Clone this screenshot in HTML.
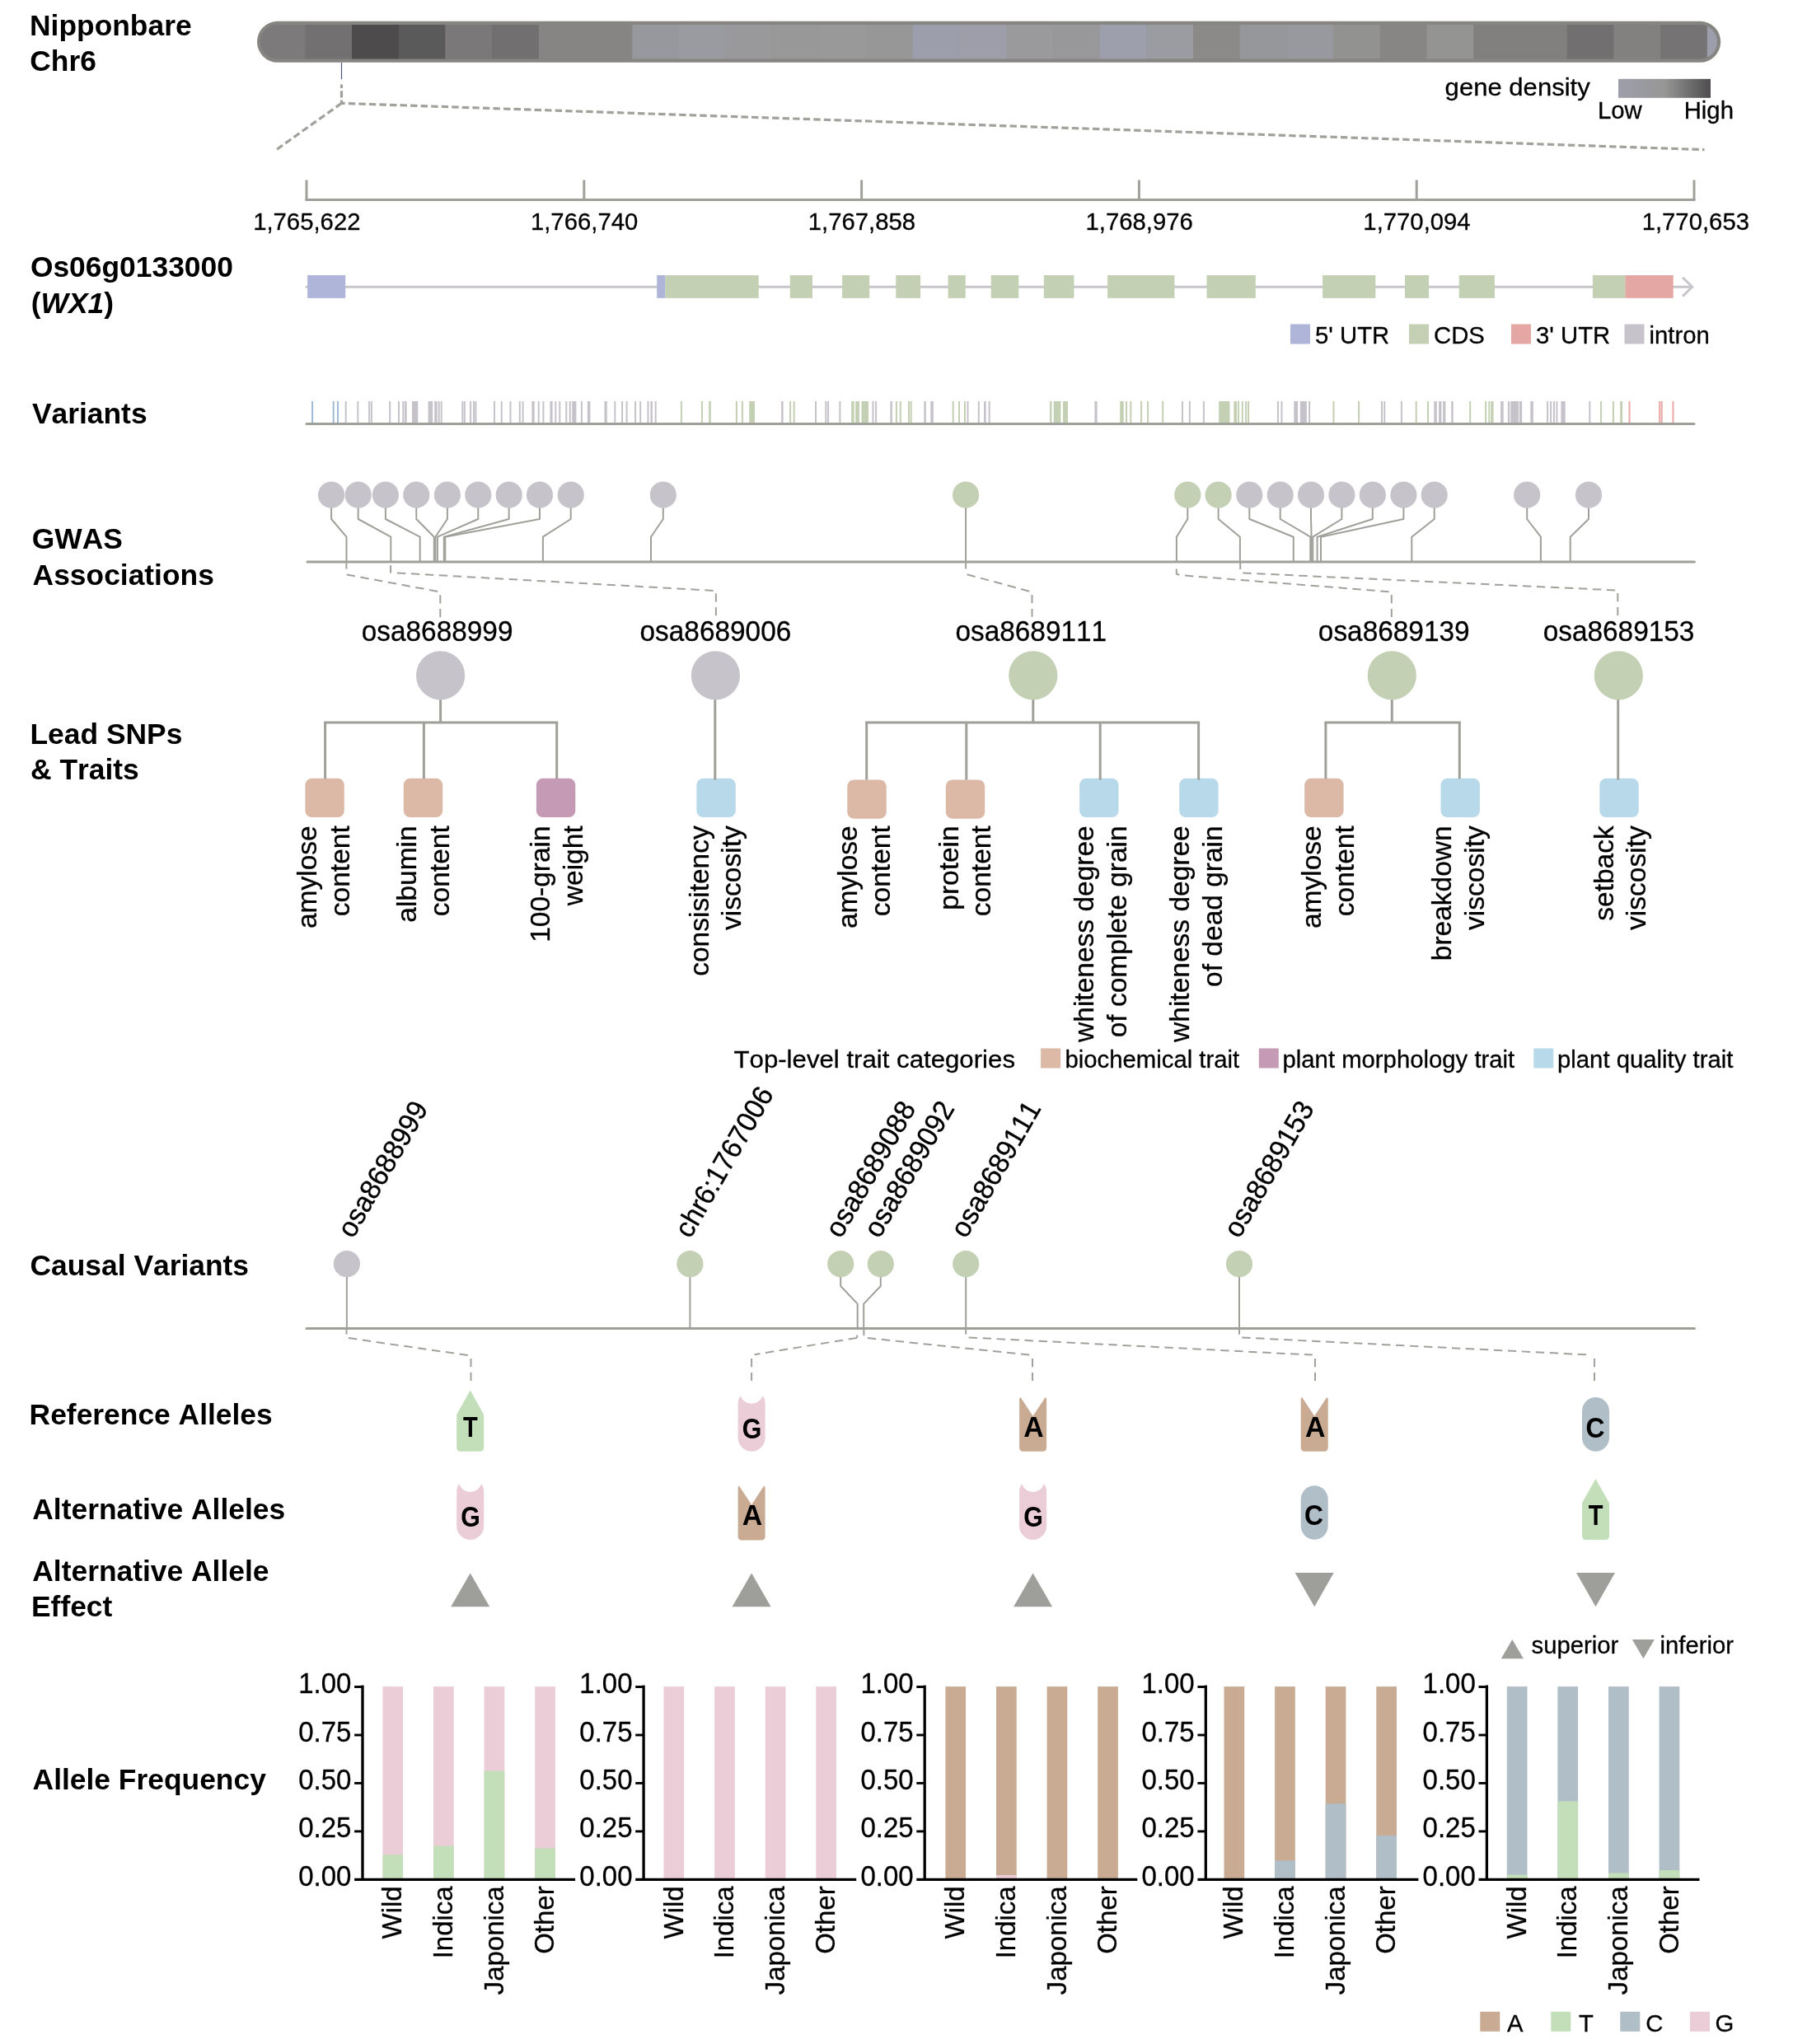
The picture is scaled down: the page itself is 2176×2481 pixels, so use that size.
<!DOCTYPE html>
<html><head><meta charset="utf-8"><title>WX1 locus</title>
<style>
html,body{margin:0;padding:0;background:#fff;}
body{width:2176px;height:2481px;overflow:hidden;font-family:"Liberation Sans",sans-serif;}
svg{display:block;will-change:transform;}
svg text{font-family:"Liberation Sans",sans-serif;fill:#000;font-kerning:none;stroke:#000;stroke-width:0.3px;}
</style></head><body>
<svg width="2176" height="2481" viewBox="0 0 2176 2481">
<rect width="2176" height="2481" fill="#fff"/>
<text transform="translate(36.0 43.3)" font-size="35.4" font-weight="bold" style="stroke:none">Nipponbare</text>
<text transform="translate(36.3 86)" font-size="35.4" font-weight="bold" style="stroke:none">Chr6</text>
<text transform="translate(36.9 335.8)" font-size="35.4" font-weight="bold" style="stroke:none">Os06g0133000</text>
<text transform="translate(37.8 379.5)" font-size="35.4" font-weight="bold" style="stroke:none">(<tspan font-style="italic">WX1</tspan>)</text>
<text transform="translate(38.9 513.7)" font-size="35.4" font-weight="bold" style="stroke:none">Variants</text>
<text transform="translate(38.7 666.3)" font-size="35.4" font-weight="bold" style="stroke:none">GWAS</text>
<text transform="translate(39.6 709.8)" font-size="35.4" font-weight="bold" style="stroke:none">Associations</text>
<text transform="translate(36.5 903)" font-size="35.4" font-weight="bold" style="stroke:none">Lead SNPs</text>
<text transform="translate(37 945.8)" font-size="35.4" font-weight="bold" style="stroke:none">&amp; Traits</text>
<text transform="translate(36.5 1548.2)" font-size="35.4" font-weight="bold" style="stroke:none">Causal Variants</text>
<text transform="translate(35.6 1728.6)" font-size="35.4" font-weight="bold" style="stroke:none">Reference Alleles</text>
<text transform="translate(39.3 1844.4)" font-size="35.4" font-weight="bold" style="stroke:none">Alternative Alleles</text>
<text transform="translate(39.3 1919.2)" font-size="35.4" font-weight="bold" style="stroke:none">Alternative Allele</text>
<text transform="translate(38 1962.2)" font-size="35.4" font-weight="bold" style="stroke:none">Effect</text>
<text transform="translate(39.6 2171.5)" font-size="35.4" font-weight="bold" style="stroke:none">Allele Frequency</text>
<defs><clipPath id="chrclip"><rect x="316" y="30" width="1768" height="41.6" rx="20.8"/></clipPath></defs>
<rect x="312" y="25.8" width="1776.2" height="50" rx="25" fill="#868581"/>
<g clip-path="url(#chrclip)">
<rect x="310" y="28" width="60.57" height="46" fill="#7c7a7a"/>
<rect x="370.27" y="28" width="57.02" height="46" fill="#727071"/>
<rect x="426.99" y="28" width="57.02" height="46" fill="#4d4b4c"/>
<rect x="483.71" y="28" width="57.02" height="46" fill="#5b5a5b"/>
<rect x="540.43" y="28" width="57.02" height="46" fill="#7a7879"/>
<rect x="597.15" y="28" width="57.02" height="46" fill="#716f70"/>
<rect x="653.87" y="28" width="57.02" height="46" fill="#868583"/>
<rect x="710.59" y="28" width="57.02" height="46" fill="#868583"/>
<rect x="767.31" y="28" width="57.02" height="46" fill="#97989d"/>
<rect x="824.03" y="28" width="57.02" height="46" fill="#9a9ba0"/>
<rect x="880.75" y="28" width="57.02" height="46" fill="#99989b"/>
<rect x="937.47" y="28" width="57.02" height="46" fill="#989899"/>
<rect x="994.19" y="28" width="57.02" height="46" fill="#999999"/>
<rect x="1050.91" y="28" width="57.02" height="46" fill="#979797"/>
<rect x="1107.63" y="28" width="57.02" height="46" fill="#9c9fab"/>
<rect x="1164.35" y="28" width="57.02" height="46" fill="#9e9eaa"/>
<rect x="1221.07" y="28" width="57.02" height="46" fill="#9a9a9c"/>
<rect x="1277.79" y="28" width="57.02" height="46" fill="#98989a"/>
<rect x="1334.51" y="28" width="57.02" height="46" fill="#9d9fac"/>
<rect x="1391.23" y="28" width="57.02" height="46" fill="#9b9ca2"/>
<rect x="1447.95" y="28" width="57.02" height="46" fill="#8b8a88"/>
<rect x="1504.67" y="28" width="57.02" height="46" fill="#96979b"/>
<rect x="1561.39" y="28" width="57.02" height="46" fill="#98999e"/>
<rect x="1618.11" y="28" width="57.02" height="46" fill="#929290"/>
<rect x="1674.83" y="28" width="57.02" height="46" fill="#878684"/>
<rect x="1731.55" y="28" width="57.02" height="46" fill="#949492"/>
<rect x="1788.27" y="28" width="57.02" height="46" fill="#82807f"/>
<rect x="1844.99" y="28" width="57.02" height="46" fill="#82807f"/>
<rect x="1901.71" y="28" width="57.02" height="46" fill="#716f70"/>
<rect x="1958.43" y="28" width="57.02" height="46" fill="#83817f"/>
<rect x="2015.15" y="28" width="57.02" height="46" fill="#757374"/>
<rect x="2071.87" y="28" width="57.02" height="46" fill="#9c9eab"/>
</g>
<line x1="414.5" y1="76" x2="414.5" y2="96.3" stroke="#46567c" stroke-width="1.2"/>
<path d="M414.5 102.6 V107.1 M414.5 110.2 V118.5 M414.5 121.5 V125.6" stroke="#a1a19c" stroke-width="3.2" fill="none"/>
<path d="M414.5 125.3 L334.7 182.2" stroke="#a1a19c" stroke-width="3.2" stroke-dasharray="8.4 4.15" fill="none"/>
<path d="M414.5 125.3 L2068.5 181.7" stroke="#a1a19c" stroke-width="3.2" stroke-dasharray="8.4 4.15" stroke-dashoffset="4.2" fill="none"/>
<text transform="translate(1753.6 115.7) scale(1.061 1)" font-size="29.3">gene density</text>
<defs><linearGradient id="gd" x1="0" x2="1" y1="0" y2="0"><stop offset="0" stop-color="#9d9eab"/><stop offset="0.5" stop-color="#979796"/><stop offset="1" stop-color="#4e4c4e"/></linearGradient></defs>
<rect x="1964" y="95.8" width="112" height="23" fill="url(#gd)"/>
<text transform="translate(1939 143.9)" font-size="29.3">Low</text>
<text transform="translate(2043.7 143.9)" font-size="29.3">High</text>
<path d="M370.5 242.5 H2057.5" stroke="#a0a09b" stroke-width="3" fill="none"/>
<path d="M372.0 218.5 V243" stroke="#a0a09b" stroke-width="3" fill="none"/>
<text transform="translate(372.3 279) scale(0.97 1)" font-size="30.2" text-anchor="middle">1,765,622</text>
<path d="M708.8 218.5 V243" stroke="#a0a09b" stroke-width="3" fill="none"/>
<text transform="translate(709.1 279) scale(0.97 1)" font-size="30.2" text-anchor="middle">1,766,740</text>
<path d="M1045.6 218.5 V243" stroke="#a0a09b" stroke-width="3" fill="none"/>
<text transform="translate(1045.9 279) scale(0.97 1)" font-size="30.2" text-anchor="middle">1,767,858</text>
<path d="M1382.4 218.5 V243" stroke="#a0a09b" stroke-width="3" fill="none"/>
<text transform="translate(1382.7 279) scale(0.97 1)" font-size="30.2" text-anchor="middle">1,768,976</text>
<path d="M1719.2 218.5 V243" stroke="#a0a09b" stroke-width="3" fill="none"/>
<text transform="translate(1719.5 279) scale(0.97 1)" font-size="30.2" text-anchor="middle">1,770,094</text>
<path d="M2056.0 218.5 V243" stroke="#a0a09b" stroke-width="3" fill="none"/>
<text transform="translate(2057.8 279) scale(0.97 1)" font-size="30.2" text-anchor="middle">1,770,653</text>
<path d="M372 348.3 H2052" stroke="#c8c5cb" stroke-width="3" stroke-linecap="round" fill="none"/>
<path d="M2042.1 336.8 L2053.7 348.2 L2042.1 359.6" stroke="#c8c5cb" stroke-width="3" fill="none" stroke-linejoin="miter"/>
<rect x="373.1" y="334.05" width="46.1" height="27.8" fill="#aeb5d9"/>
<rect x="797.2" y="334.05" width="10.2" height="27.8" fill="#aeb5d9"/>
<rect x="807.2" y="334.05" width="113.5" height="27.8" fill="#c3d0b3"/>
<rect x="958.8" y="334.05" width="27.2" height="27.8" fill="#c3d0b3"/>
<rect x="1022.1" y="334.05" width="33.1" height="27.8" fill="#c3d0b3"/>
<rect x="1087.3" y="334.05" width="29.7" height="27.8" fill="#c3d0b3"/>
<rect x="1150.6" y="334.05" width="21.1" height="27.8" fill="#c3d0b3"/>
<rect x="1202.7" y="334.05" width="33.6" height="27.8" fill="#c3d0b3"/>
<rect x="1266.8" y="334.05" width="36.6" height="27.8" fill="#c3d0b3"/>
<rect x="1344.1" y="334.05" width="81.3" height="27.8" fill="#c3d0b3"/>
<rect x="1464.5" y="334.05" width="59.3" height="27.8" fill="#c3d0b3"/>
<rect x="1605.1" y="334.05" width="64.2" height="27.8" fill="#c3d0b3"/>
<rect x="1705" y="334.05" width="29.1" height="27.8" fill="#c3d0b3"/>
<rect x="1770.7" y="334.05" width="43.2" height="27.8" fill="#c3d0b3"/>
<rect x="1932.9" y="334.05" width="39.8" height="27.8" fill="#c3d0b3"/>
<rect x="1972.5" y="334.05" width="58.2" height="27.8" fill="#e5a7a3"/>
<rect x="1566" y="393.5" width="24" height="24" fill="#aeb5d9"/>
<text transform="translate(1596 417) scale(0.97 1)" font-size="30.2">5' UTR</text>
<rect x="1710" y="393.5" width="24" height="24" fill="#c3d0b3"/>
<text transform="translate(1740 417) scale(0.97 1)" font-size="30.2">CDS</text>
<rect x="1834" y="393.5" width="24" height="24" fill="#e5a7a3"/>
<text transform="translate(1864 417) scale(0.97 1)" font-size="30.2">3' UTR</text>
<rect x="1971.5" y="393.5" width="24" height="24" fill="#c7c3cb"/>
<text transform="translate(2001.5 417)" font-size="29.3">intron</text>
<rect x="378.1" y="487" width="2.0" height="27" fill="#9fb9d6"/>
<rect x="403.7" y="487" width="2.0" height="27" fill="#9fb9d6"/>
<rect x="409.0" y="487" width="2.0" height="27" fill="#9fb9d6"/>
<rect x="418.7" y="487" width="2.0" height="27" fill="#c6c2ca"/>
<rect x="433.3" y="487" width="2.0" height="27" fill="#c6c2ca"/>
<rect x="447.1" y="487" width="2.0" height="27" fill="#c6c2ca"/>
<rect x="449.9" y="487" width="2.0" height="27" fill="#c6c2ca"/>
<rect x="472.2" y="487" width="2.0" height="27" fill="#c6c2ca"/>
<rect x="483.0" y="487" width="2.0" height="27" fill="#c6c2ca"/>
<rect x="488.3" y="487" width="2.0" height="27" fill="#c6c2ca"/>
<rect x="491.0" y="487" width="2.6" height="27" fill="#c6c2ca"/>
<rect x="500.0" y="487" width="7.3" height="27" fill="#c6c2ca"/>
<rect x="519.6" y="487" width="5.6" height="27" fill="#c6c2ca"/>
<rect x="527.2" y="487" width="3.5" height="27" fill="#c6c2ca"/>
<rect x="531.7" y="487" width="2.0" height="27" fill="#c6c2ca"/>
<rect x="534.7" y="487" width="2.0" height="27" fill="#c6c2ca"/>
<rect x="560.3" y="487" width="2.0" height="27" fill="#c6c2ca"/>
<rect x="562.8" y="487" width="2.0" height="27" fill="#c6c2ca"/>
<rect x="570.1" y="487" width="2.0" height="27" fill="#c6c2ca"/>
<rect x="574.1" y="487" width="2.0" height="27" fill="#c6c2ca"/>
<rect x="576.4" y="487" width="2.0" height="27" fill="#c6c2ca"/>
<rect x="599.0" y="487" width="2.0" height="27" fill="#c6c2ca"/>
<rect x="607.7" y="487" width="2.0" height="27" fill="#c6c2ca"/>
<rect x="618.5" y="487" width="2.0" height="27" fill="#c6c2ca"/>
<rect x="629.8" y="487" width="2.0" height="27" fill="#c6c2ca"/>
<rect x="633.6" y="487" width="2.0" height="27" fill="#c6c2ca"/>
<rect x="645.4" y="487" width="3.3" height="27" fill="#c6c2ca"/>
<rect x="652.7" y="487" width="2.0" height="27" fill="#c6c2ca"/>
<rect x="658.4" y="487" width="2.0" height="27" fill="#c6c2ca"/>
<rect x="667.5" y="487" width="3.2" height="27" fill="#c6c2ca"/>
<rect x="673.3" y="487" width="2.0" height="27" fill="#c6c2ca"/>
<rect x="678.3" y="487" width="2.0" height="27" fill="#c6c2ca"/>
<rect x="686.3" y="487" width="2.0" height="27" fill="#c6c2ca"/>
<rect x="690.8" y="487" width="2.0" height="27" fill="#c6c2ca"/>
<rect x="694.3" y="487" width="5.1" height="27" fill="#c6c2ca"/>
<rect x="704.9" y="487" width="2.0" height="27" fill="#c6c2ca"/>
<rect x="712.9" y="487" width="3.5" height="27" fill="#c6c2ca"/>
<rect x="733.5" y="487" width="3.3" height="27" fill="#c6c2ca"/>
<rect x="745.3" y="487" width="2.0" height="27" fill="#c6c2ca"/>
<rect x="754.1" y="487" width="2.0" height="27" fill="#c6c2ca"/>
<rect x="759.6" y="487" width="2.0" height="27" fill="#c6c2ca"/>
<rect x="770.1" y="487" width="2.0" height="27" fill="#c6c2ca"/>
<rect x="776.2" y="487" width="2.0" height="27" fill="#c6c2ca"/>
<rect x="785.5" y="487" width="2.0" height="27" fill="#c6c2ca"/>
<rect x="789.5" y="487" width="2.4" height="27" fill="#c6c2ca"/>
<rect x="794.7" y="487" width="2.0" height="27" fill="#c6c2ca"/>
<rect x="948.1" y="487" width="2.5" height="27" fill="#c6c2ca"/>
<rect x="989.0" y="487" width="2.0" height="27" fill="#c6c2ca"/>
<rect x="1001.3" y="487" width="2.0" height="27" fill="#c6c2ca"/>
<rect x="1004.1" y="487" width="2.0" height="27" fill="#c6c2ca"/>
<rect x="1018.4" y="487" width="2.0" height="27" fill="#c6c2ca"/>
<rect x="1058.5" y="487" width="2.0" height="27" fill="#c6c2ca"/>
<rect x="1062.1" y="487" width="2.0" height="27" fill="#c6c2ca"/>
<rect x="1080.4" y="487" width="2.5" height="27" fill="#c6c2ca"/>
<rect x="1121.3" y="487" width="2.5" height="27" fill="#c6c2ca"/>
<rect x="1129.3" y="487" width="3.5" height="27" fill="#c6c2ca"/>
<rect x="1173.5" y="487" width="2.0" height="27" fill="#c6c2ca"/>
<rect x="1186.8" y="487" width="2.0" height="27" fill="#c6c2ca"/>
<rect x="1194.0" y="487" width="2.6" height="27" fill="#c6c2ca"/>
<rect x="1199.6" y="487" width="2.0" height="27" fill="#c6c2ca"/>
<rect x="1328.4" y="487" width="3.2" height="27" fill="#c6c2ca"/>
<rect x="1434.0" y="487" width="2.0" height="27" fill="#c6c2ca"/>
<rect x="1442.8" y="487" width="2.0" height="27" fill="#c6c2ca"/>
<rect x="1459.9" y="487" width="2.0" height="27" fill="#c6c2ca"/>
<rect x="1550.0" y="487" width="2.0" height="27" fill="#c6c2ca"/>
<rect x="1554.5" y="487" width="2.0" height="27" fill="#c6c2ca"/>
<rect x="1570.3" y="487" width="4.8" height="27" fill="#c6c2ca"/>
<rect x="1577.8" y="487" width="8.1" height="27" fill="#c6c2ca"/>
<rect x="1588.1" y="487" width="2.0" height="27" fill="#c6c2ca"/>
<rect x="1676.0" y="487" width="2.0" height="27" fill="#c6c2ca"/>
<rect x="1679.3" y="487" width="2.0" height="27" fill="#c6c2ca"/>
<rect x="1699.9" y="487" width="2.0" height="27" fill="#c6c2ca"/>
<rect x="1740.3" y="487" width="3.5" height="27" fill="#c6c2ca"/>
<rect x="1746.1" y="487" width="3.3" height="27" fill="#c6c2ca"/>
<rect x="1751.1" y="487" width="3.3" height="27" fill="#c6c2ca"/>
<rect x="1761.2" y="487" width="2.5" height="27" fill="#c6c2ca"/>
<rect x="1821.1" y="487" width="3.6" height="27" fill="#c6c2ca"/>
<rect x="1829.9" y="487" width="2.3" height="27" fill="#c6c2ca"/>
<rect x="1833.2" y="487" width="10.0" height="27" fill="#c6c2ca"/>
<rect x="1844.0" y="487" width="3.2" height="27" fill="#c6c2ca"/>
<rect x="1857.3" y="487" width="3.5" height="27" fill="#c6c2ca"/>
<rect x="1877.1" y="487" width="2.0" height="27" fill="#c6c2ca"/>
<rect x="1881.1" y="487" width="2.0" height="27" fill="#c6c2ca"/>
<rect x="1884.9" y="487" width="2.0" height="27" fill="#c6c2ca"/>
<rect x="1888.4" y="487" width="2.0" height="27" fill="#c6c2ca"/>
<rect x="1894.4" y="487" width="5.3" height="27" fill="#c6c2ca"/>
<rect x="1928.3" y="487" width="2.0" height="27" fill="#c6c2ca"/>
<rect x="825.9" y="487" width="2.0" height="27" fill="#c3d0b3"/>
<rect x="851.0" y="487" width="2.0" height="27" fill="#c3d0b3"/>
<rect x="860.2" y="487" width="2.6" height="27" fill="#c3d0b3"/>
<rect x="892.9" y="487" width="2.0" height="27" fill="#c3d0b3"/>
<rect x="899.9" y="487" width="2.0" height="27" fill="#c3d0b3"/>
<rect x="909.2" y="487" width="6.8" height="27" fill="#c3d0b3"/>
<rect x="958.1" y="487" width="2.0" height="27" fill="#c3d0b3"/>
<rect x="962.7" y="487" width="2.0" height="27" fill="#c3d0b3"/>
<rect x="1033.2" y="487" width="3.5" height="27" fill="#c3d0b3"/>
<rect x="1038.2" y="487" width="4.8" height="27" fill="#c3d0b3"/>
<rect x="1045.5" y="487" width="8.5" height="27" fill="#c3d0b3"/>
<rect x="1086.9" y="487" width="2.0" height="27" fill="#c3d0b3"/>
<rect x="1091.7" y="487" width="2.0" height="27" fill="#c3d0b3"/>
<rect x="1102.0" y="487" width="2.0" height="27" fill="#c3d0b3"/>
<rect x="1104.7" y="487" width="2.0" height="27" fill="#c3d0b3"/>
<rect x="1155.7" y="487" width="2.0" height="27" fill="#c3d0b3"/>
<rect x="1163.0" y="487" width="2.0" height="27" fill="#c3d0b3"/>
<rect x="1170.0" y="487" width="2.0" height="27" fill="#c3d0b3"/>
<rect x="1274.1" y="487" width="2.3" height="27" fill="#c3d0b3"/>
<rect x="1278.7" y="487" width="8.7" height="27" fill="#c3d0b3"/>
<rect x="1290.0" y="487" width="6.0" height="27" fill="#c3d0b3"/>
<rect x="1359.2" y="487" width="4.5" height="27" fill="#c3d0b3"/>
<rect x="1366.0" y="487" width="2.0" height="27" fill="#c3d0b3"/>
<rect x="1371.3" y="487" width="2.0" height="27" fill="#c3d0b3"/>
<rect x="1384.1" y="487" width="2.0" height="27" fill="#c3d0b3"/>
<rect x="1392.1" y="487" width="2.0" height="27" fill="#c3d0b3"/>
<rect x="1410.2" y="487" width="2.0" height="27" fill="#c3d0b3"/>
<rect x="1479.2" y="487" width="13.3" height="27" fill="#c3d0b3"/>
<rect x="1497.3" y="487" width="3.7" height="27" fill="#c3d0b3"/>
<rect x="1502.0" y="487" width="2.0" height="27" fill="#c3d0b3"/>
<rect x="1506.8" y="487" width="2.0" height="27" fill="#c3d0b3"/>
<rect x="1511.1" y="487" width="2.0" height="27" fill="#c3d0b3"/>
<rect x="1514.1" y="487" width="2.0" height="27" fill="#c3d0b3"/>
<rect x="1617.5" y="487" width="2.0" height="27" fill="#c3d0b3"/>
<rect x="1648.1" y="487" width="2.0" height="27" fill="#c3d0b3"/>
<rect x="1717.7" y="487" width="2.0" height="27" fill="#c3d0b3"/>
<rect x="1732.0" y="487" width="2.0" height="27" fill="#c3d0b3"/>
<rect x="1783.2" y="487" width="2.0" height="27" fill="#c3d0b3"/>
<rect x="1802.1" y="487" width="2.0" height="27" fill="#c3d0b3"/>
<rect x="1806.3" y="487" width="1.8" height="27" fill="#c3d0b3"/>
<rect x="1809.1" y="487" width="3.5" height="27" fill="#c3d0b3"/>
<rect x="1942.1" y="487" width="2.0" height="27" fill="#c3d0b3"/>
<rect x="1956.9" y="487" width="2.0" height="27" fill="#c3d0b3"/>
<rect x="1966.2" y="487" width="2.8" height="27" fill="#c3d0b3"/>
<rect x="1976.5" y="487" width="2.0" height="27" fill="#e8a9a6"/>
<rect x="2013.2" y="487" width="2.0" height="27" fill="#e8a9a6"/>
<rect x="2015.7" y="487" width="2.0" height="27" fill="#e8a9a6"/>
<rect x="2029.5" y="487" width="2.0" height="27" fill="#e8a9a6"/>
<path d="M372 514.5 H2056" stroke="#a0a09b" stroke-width="3" stroke-linecap="round" fill="none"/>
<path d="M402.1 614.7 V630 L420.5 651.7 V682" stroke="#a0a09b" stroke-width="2" fill="none" stroke-linejoin="round"/>
<path d="M434.7 614.7 V630 L474.3 651.7 V682" stroke="#a0a09b" stroke-width="2" fill="none" stroke-linejoin="round"/>
<path d="M467.9 614.7 V630 L509.7 651.7 V682" stroke="#a0a09b" stroke-width="2" fill="none" stroke-linejoin="round"/>
<path d="M505.3 614.7 V630 L526.8 651.7 V682" stroke="#a0a09b" stroke-width="2" fill="none" stroke-linejoin="round"/>
<path d="M542.9 614.7 V630 L528.4 651.7 V682" stroke="#a0a09b" stroke-width="2" fill="none" stroke-linejoin="round"/>
<path d="M580.3 614.7 V630 L530.9 651.7 V682" stroke="#a0a09b" stroke-width="2" fill="none" stroke-linejoin="round"/>
<path d="M617.7 614.7 V630 L538.8 651.7 V682" stroke="#a0a09b" stroke-width="2" fill="none" stroke-linejoin="round"/>
<path d="M655 614.7 V630 L540.3 651.7 V682" stroke="#a0a09b" stroke-width="2" fill="none" stroke-linejoin="round"/>
<path d="M692.7 614.7 V630 L658.9 651.7 V682" stroke="#a0a09b" stroke-width="2" fill="none" stroke-linejoin="round"/>
<path d="M804.8 614.7 V630 L790 651.7 V682" stroke="#a0a09b" stroke-width="2" fill="none" stroke-linejoin="round"/>
<path d="M1172.1 614.7 V630 L1172.1 651.7 V682" stroke="#a0a09b" stroke-width="2" fill="none" stroke-linejoin="round"/>
<path d="M1441.3 614.7 V630 L1427.9 651.7 V682" stroke="#a0a09b" stroke-width="2" fill="none" stroke-linejoin="round"/>
<path d="M1478.6 614.7 V630 L1504.9 651.7 V682" stroke="#a0a09b" stroke-width="2" fill="none" stroke-linejoin="round"/>
<path d="M1516.3 614.7 V630 L1569.8 651.7 V682" stroke="#a0a09b" stroke-width="2" fill="none" stroke-linejoin="round"/>
<path d="M1553.7 614.7 V630 L1590.3 651.7 V682" stroke="#a0a09b" stroke-width="2" fill="none" stroke-linejoin="round"/>
<path d="M1591 614.7 V630 L1591.6 651.7 V682" stroke="#a0a09b" stroke-width="2" fill="none" stroke-linejoin="round"/>
<path d="M1628.4 614.7 V630 L1593.3 651.7 V682" stroke="#a0a09b" stroke-width="2" fill="none" stroke-linejoin="round"/>
<path d="M1665.8 614.7 V630 L1598.6 651.7 V682" stroke="#a0a09b" stroke-width="2" fill="none" stroke-linejoin="round"/>
<path d="M1703.4 614.7 V630 L1603 651.7 V682" stroke="#a0a09b" stroke-width="2" fill="none" stroke-linejoin="round"/>
<path d="M1740.7 614.7 V630 L1713.3 651.7 V682" stroke="#a0a09b" stroke-width="2" fill="none" stroke-linejoin="round"/>
<path d="M1853.2 614.7 V630 L1869.9 651.7 V682" stroke="#a0a09b" stroke-width="2" fill="none" stroke-linejoin="round"/>
<path d="M1928 614.7 V630 L1905.7 651.7 V682" stroke="#a0a09b" stroke-width="2" fill="none" stroke-linejoin="round"/>
<circle cx="402.1" cy="600.7" r="16.1" fill="#c7c3cb"/>
<circle cx="434.7" cy="600.7" r="16.1" fill="#c7c3cb"/>
<circle cx="467.9" cy="600.7" r="16.1" fill="#c7c3cb"/>
<circle cx="505.3" cy="600.7" r="16.1" fill="#c7c3cb"/>
<circle cx="542.9" cy="600.7" r="16.1" fill="#c7c3cb"/>
<circle cx="580.3" cy="600.7" r="16.1" fill="#c7c3cb"/>
<circle cx="617.7" cy="600.7" r="16.1" fill="#c7c3cb"/>
<circle cx="655" cy="600.7" r="16.1" fill="#c7c3cb"/>
<circle cx="692.7" cy="600.7" r="16.1" fill="#c7c3cb"/>
<circle cx="804.8" cy="600.7" r="16.1" fill="#c7c3cb"/>
<circle cx="1172.1" cy="600.7" r="16.1" fill="#c3d0b3"/>
<circle cx="1441.3" cy="600.7" r="16.1" fill="#c3d0b3"/>
<circle cx="1478.6" cy="600.7" r="16.1" fill="#c3d0b3"/>
<circle cx="1516.3" cy="600.7" r="16.1" fill="#c7c3cb"/>
<circle cx="1553.7" cy="600.7" r="16.1" fill="#c7c3cb"/>
<circle cx="1591" cy="600.7" r="16.1" fill="#c7c3cb"/>
<circle cx="1628.4" cy="600.7" r="16.1" fill="#c7c3cb"/>
<circle cx="1665.8" cy="600.7" r="16.1" fill="#c7c3cb"/>
<circle cx="1703.4" cy="600.7" r="16.1" fill="#c7c3cb"/>
<circle cx="1740.7" cy="600.7" r="16.1" fill="#c7c3cb"/>
<circle cx="1853.2" cy="600.7" r="16.1" fill="#c7c3cb"/>
<circle cx="1928" cy="600.7" r="16.1" fill="#c7c3cb"/>
<path d="M373 682 H2056.5" stroke="#a0a09b" stroke-width="3" stroke-linecap="round" fill="none"/>
<path d="M420.4 682 V690.7" stroke="#a1a19c" stroke-width="2.0" fill="none"/>
<path d="M420.7 697.4 L531.2 717.9" stroke="#a1a19c" stroke-width="2.0" stroke-dasharray="10.4 6.6" fill="none"/>
<path d="M534.3 722.2 V749.2" stroke="#a1a19c" stroke-width="2.0" stroke-dasharray="10.2 6.7" fill="none"/>
<path d="M474.1 686.1 V695.7" stroke="#a1a19c" stroke-width="2.0" fill="none"/>
<path d="M481.9 695.4 L865.8 716.9" stroke="#a1a19c" stroke-width="2.0" stroke-dasharray="10.4 6.6" fill="none"/>
<path d="M868.9 720.2 V747.6" stroke="#a1a19c" stroke-width="2.0" stroke-dasharray="10.2 6.7" fill="none"/>
<path d="M1172.1 682 V690.5" stroke="#a1a19c" stroke-width="2.0" fill="none"/>
<path d="M1173.5 697.2 L1249.6 717.8" stroke="#a1a19c" stroke-width="2.0" stroke-dasharray="10.4 6.6" fill="none"/>
<path d="M1252.5 722 V748.7" stroke="#a1a19c" stroke-width="2.0" stroke-dasharray="10.2 6.7" fill="none"/>
<path d="M1427.8 690.5 V697.3" stroke="#a1a19c" stroke-width="2.0" fill="none"/>
<path d="M1427.8 697.1 L1431.4 697.6" stroke="#a1a19c" stroke-width="2.0" fill="none"/>
<path d="M1438 698.6 L1685.6 718.2" stroke="#a1a19c" stroke-width="2.0" stroke-dasharray="10.4 6.6" fill="none"/>
<path d="M1688.8 722.1 V749.1" stroke="#a1a19c" stroke-width="2.0" stroke-dasharray="10.2 6.7" fill="none"/>
<path d="M1505.2 682 V691.1" stroke="#a1a19c" stroke-width="2.0" fill="none"/>
<path d="M1508.3 695.5 L1960.2 716.4" stroke="#a1a19c" stroke-width="2.0" stroke-dasharray="10.4 6.6" fill="none"/>
<path d="M1963.3 720 V747.3" stroke="#a1a19c" stroke-width="2.0" stroke-dasharray="10.2 6.7" fill="none"/>
<text transform="translate(530.6 778.0) scale(0.965 1)" font-size="34.6" text-anchor="middle">osa8688999</text>
<path d="M534.6 845 V877 M393.1 877 H677.2" stroke="#a0a09b" stroke-width="3" fill="none"/>
<rect x="370.4" y="944.8" width="47.4" height="47.2" rx="8" fill="#dcb8a6"/>
<path d="M394.6 877 V945.2" stroke="#a0a09b" stroke-width="3" fill="none"/>
<rect x="489.8" y="944.8" width="47.4" height="47.2" rx="8" fill="#dcb8a6"/>
<path d="M514.4 877 V945.2" stroke="#a0a09b" stroke-width="3" fill="none"/>
<rect x="650.9" y="944.8" width="47.4" height="47.2" rx="8" fill="#c49ab5"/>
<path d="M675.7 877 V945.2" stroke="#a0a09b" stroke-width="3" fill="none"/>
<circle cx="534.6" cy="819.8" r="29.6" fill="#c7c3cb"/>
<text transform="translate(383.9 1002.3) rotate(-90)" font-size="33.5" text-anchor="end">amylose</text>
<text transform="translate(423.6 1002.3) rotate(-90)" font-size="33.5" text-anchor="end">content</text>
<text transform="translate(504.8 1002.3) rotate(-90)" font-size="33.5" text-anchor="end">albumin</text>
<text transform="translate(545.4 1002.3) rotate(-90)" font-size="33.5" text-anchor="end">content</text>
<text transform="translate(666.8 1002.3) rotate(-90)" font-size="33.5" text-anchor="end">100-grain</text>
<text transform="translate(707.4 1002.3) rotate(-90)" font-size="33.5" text-anchor="end">weight</text>
<text transform="translate(868.4 778.0) scale(0.965 1)" font-size="34.6" text-anchor="middle">osa8689006</text>
<rect x="845.4" y="944.8" width="47.4" height="47.2" rx="8" fill="#b8d9ea"/>
<path d="M867.8 845 V946.6" stroke="#a0a09b" stroke-width="3" fill="none"/>
<circle cx="868.4" cy="819.8" r="29.6" fill="#c7c3cb"/>
<text transform="translate(859.7 1002.3) rotate(-90)" font-size="33.5" text-anchor="end">consisitency</text>
<text transform="translate(899.2 1002.3) rotate(-90)" font-size="33.5" text-anchor="end">viscosity</text>
<text transform="translate(1251.3 778.0) scale(0.965 1)" font-size="34.6" text-anchor="middle">osa8689111</text>
<path d="M1253.8 845 V877 M1050.2 877 H1456.1" stroke="#a0a09b" stroke-width="3" fill="none"/>
<rect x="1028.3" y="946.5" width="47.4" height="47.2" rx="8" fill="#dcb8a6"/>
<path d="M1051.7 877 V946.6" stroke="#a0a09b" stroke-width="3" fill="none"/>
<rect x="1147.8" y="946.5" width="47.4" height="47.2" rx="8" fill="#dcb8a6"/>
<path d="M1172.8 877 V946.6" stroke="#a0a09b" stroke-width="3" fill="none"/>
<rect x="1310.1" y="944.8" width="47.4" height="47.2" rx="8" fill="#b8d9ea"/>
<path d="M1335.2 877 V946.6" stroke="#a0a09b" stroke-width="3" fill="none"/>
<rect x="1431.2" y="944.8" width="47.4" height="47.2" rx="8" fill="#b8d9ea"/>
<path d="M1454.6 877 V946.6" stroke="#a0a09b" stroke-width="3" fill="none"/>
<circle cx="1253.8" cy="819.8" r="29.6" fill="#c3d0b3"/>
<text transform="translate(1040.3 1002.3) rotate(-90)" font-size="33.5" text-anchor="end">amylose</text>
<text transform="translate(1079.8 1002.3) rotate(-90)" font-size="33.5" text-anchor="end">content</text>
<text transform="translate(1162.5 1002.3) rotate(-90)" font-size="33.5" text-anchor="end">protein</text>
<text transform="translate(1201.6 1002.3) rotate(-90)" font-size="33.5" text-anchor="end">content</text>
<text transform="translate(1327.1 1002.3) rotate(-90)" font-size="33.5" text-anchor="end">whiteness degree</text>
<text transform="translate(1366.6 1002.3) rotate(-90)" font-size="33.5" text-anchor="end">of complete grain</text>
<text transform="translate(1443.3 1002.3) rotate(-90)" font-size="33.5" text-anchor="end">whiteness degree</text>
<text transform="translate(1482.8 1002.3) rotate(-90)" font-size="33.5" text-anchor="end">of dead grain</text>
<text transform="translate(1691.7 778.0) scale(0.965 1)" font-size="34.6" text-anchor="middle">osa8689139</text>
<path d="M1689.3 845 V877 M1607.4 877 H1772.8" stroke="#a0a09b" stroke-width="3" fill="none"/>
<rect x="1583.2" y="944.8" width="47.4" height="47.2" rx="8" fill="#dcb8a6"/>
<path d="M1608.9 877 V945.2" stroke="#a0a09b" stroke-width="3" fill="none"/>
<rect x="1748.5" y="944.8" width="47.4" height="47.2" rx="8" fill="#b8d9ea"/>
<path d="M1771.3 877 V945.2" stroke="#a0a09b" stroke-width="3" fill="none"/>
<circle cx="1689.3" cy="819.8" r="29.6" fill="#c3d0b3"/>
<text transform="translate(1602.9 1002.3) rotate(-90)" font-size="33.5" text-anchor="end">amylose</text>
<text transform="translate(1642.7 1002.3) rotate(-90)" font-size="33.5" text-anchor="end">content</text>
<text transform="translate(1761.2 1002.3) rotate(-90)" font-size="33.5" text-anchor="end">breakdown</text>
<text transform="translate(1800.7 1002.3) rotate(-90)" font-size="33.5" text-anchor="end">viscosity</text>
<text transform="translate(1964.5 778.0) scale(0.965 1)" font-size="34.6" text-anchor="middle">osa8689153</text>
<rect x="1941.3" y="944.8" width="47.4" height="47.2" rx="8" fill="#b8d9ea"/>
<path d="M1963.7 845 V946.6" stroke="#a0a09b" stroke-width="3" fill="none"/>
<circle cx="1964.3" cy="819.8" r="29.6" fill="#c3d0b3"/>
<text transform="translate(1957.7 1002.3) rotate(-90)" font-size="33.5" text-anchor="end">setback</text>
<text transform="translate(1997.2 1002.3) rotate(-90)" font-size="33.5" text-anchor="end">viscosity</text>
<text transform="translate(890.5 1295.5) scale(1.065 1)" font-size="29.3">Top-level trait categories</text>
<rect x="1263.1" y="1272.5" width="24" height="24" fill="#dcb8a6"/>
<text transform="translate(1292.5 1295.5)" font-size="29.3">biochemical trait</text>
<rect x="1527.8" y="1272.5" width="24" height="24" fill="#c49ab5"/>
<text transform="translate(1556.5 1295.5)" font-size="29.3">plant morphology trait</text>
<rect x="1861.3" y="1272.5" width="24" height="24" fill="#b8d9ea"/>
<text transform="translate(1890 1295.5)" font-size="29.3">plant quality trait</text>
<path d="M420.9 1534.2 V1612.4" stroke="#a0a09b" stroke-width="2" fill="none"/>
<circle cx="420.9" cy="1534.2" r="16.1" fill="#c7c3cb"/>
<text transform="translate(428.4 1504.4) rotate(-60) scale(1 1.035)" font-size="33.4">osa8688999</text>
<path d="M837.4 1534.2 V1612.4" stroke="#a0a09b" stroke-width="2" fill="none"/>
<circle cx="837.4" cy="1534.2" r="16.1" fill="#c3d0b3"/>
<text transform="translate(837.8 1504.4) rotate(-60) scale(1 1.035)" font-size="33.4">chr6:1767006</text>
<path d="M1020.2 1534.2 V1561 L1040.7 1582.6 V1612.4" stroke="#a0a09b" stroke-width="2" fill="none" stroke-linejoin="round"/>
<circle cx="1020.2" cy="1534.2" r="16.1" fill="#c3d0b3"/>
<text transform="translate(1020.5 1504.4) rotate(-60) scale(1 1.035)" font-size="33.4">osa8689088</text>
<path d="M1068.8 1534.2 V1561 L1048.2 1582.6 V1612.4" stroke="#a0a09b" stroke-width="2" fill="none" stroke-linejoin="round"/>
<circle cx="1068.8" cy="1534.2" r="16.1" fill="#c3d0b3"/>
<text transform="translate(1067.3 1504.4) rotate(-60) scale(1 1.035)" font-size="33.4">osa8689092</text>
<path d="M1172.2 1534.2 V1612.4" stroke="#a0a09b" stroke-width="2" fill="none"/>
<circle cx="1172.2" cy="1534.2" r="16.1" fill="#c3d0b3"/>
<text transform="translate(1172.5 1504.4) rotate(-60) scale(1 1.035)" font-size="33.4">osa8689111</text>
<path d="M1504 1534.2 V1612.4" stroke="#a0a09b" stroke-width="2" fill="none"/>
<circle cx="1504" cy="1534.2" r="16.1" fill="#c3d0b3"/>
<text transform="translate(1504.0 1504.4) rotate(-60) scale(1 1.035)" font-size="33.4">osa8689153</text>
<path d="M372 1612.4 H2056.5" stroke="#a0a09b" stroke-width="3" stroke-linecap="round" fill="none"/>
<path d="M420.5 1612.4 V1619.7" stroke="#a1a19c" stroke-width="2.0" fill="none"/>
<path d="M423 1624.1 L568.4 1645.1" stroke="#a1a19c" stroke-width="2.0" stroke-dasharray="10.4 6.6" fill="none"/>
<path d="M571.5 1648.9 V1675.9" stroke="#a1a19c" stroke-width="2.0" stroke-dasharray="10.2 6.7" fill="none"/>
<path d="M1040.2 1620.5 V1623.9" stroke="#a1a19c" stroke-width="2.0" fill="none"/>
<path d="M1039.9 1623.9 L915.7 1644.2" stroke="#a1a19c" stroke-width="2.0" stroke-dasharray="10.4 6.6" fill="none"/>
<path d="M912.1 1649.1 V1675.9" stroke="#a1a19c" stroke-width="2.0" stroke-dasharray="10.2 6.7" fill="none"/>
<path d="M1048.4 1612.4 V1621.2" stroke="#a1a19c" stroke-width="2.0" fill="none"/>
<path d="M1052.9 1624.1 L1249.6 1644.6" stroke="#a1a19c" stroke-width="2.0" stroke-dasharray="10.4 6.6" fill="none"/>
<path d="M1253 1649.1 V1675.9" stroke="#a1a19c" stroke-width="2.0" stroke-dasharray="10.2 6.7" fill="none"/>
<path d="M1172.2 1612.4 V1619.6" stroke="#a1a19c" stroke-width="2.0" fill="none"/>
<path d="M1175.6 1623.4 L1592.8 1644.6" stroke="#a1a19c" stroke-width="2.0" stroke-dasharray="10.4 6.6" fill="none"/>
<path d="M1596 1649 V1675.9" stroke="#a1a19c" stroke-width="2.0" stroke-dasharray="10.2 6.7" fill="none"/>
<path d="M1504 1612.4 V1619.8" stroke="#a1a19c" stroke-width="2.0" fill="none"/>
<path d="M1507.2 1623.5 L1931.8 1644.6" stroke="#a1a19c" stroke-width="2.0" stroke-dasharray="10.4 6.6" fill="none"/>
<path d="M1935 1649 V1675.9" stroke="#a1a19c" stroke-width="2.0" stroke-dasharray="10.2 6.7" fill="none"/>
<path d="M570.7 1687.6 L587.2 1717.0 V1756.6999999999998 Q587.2 1761.6999999999998 582.2 1761.6999999999998 H559.2 Q554.2 1761.6999999999998 554.2 1756.6999999999998 V1717.0 Z" fill="#c3dfb9"/>
<text transform="translate(570.9 1743.6) scale(0.845 1)" font-size="34.4" text-anchor="middle" font-weight="bold" style="stroke:none">T</text>
<path d="M898.5500000000001 1693.9 A14.2 14.2 0 0 0 925.65 1693.9 A16.5 16.5 0 0 1 928.6 1703.4 V1745.2 A16.5 16.5 0 0 1 895.6 1745.2 V1703.4 A16.5 16.5 0 0 1 898.5500000000001 1693.9 Z" fill="#ebcdd7"/>
<text transform="translate(912.4 1746.0) scale(0.88 1)" font-size="34.4" text-anchor="middle" font-weight="bold" style="stroke:none">G</text>
<path d="M1237.1 1699 Q1237.1 1696 1238.5 1696 L1253.6 1718.8 L1268.6999999999998 1696 Q1270.1 1696 1270.1 1699 V1757.1 Q1270.1 1761.8 1265.3999999999999 1761.8 H1241.8 Q1237.1 1761.8 1237.1 1757.1 Z" fill="#c9ab94"/>
<text transform="translate(1254.6 1744.0) scale(0.985 1)" font-size="34.4" text-anchor="middle" font-weight="bold" style="stroke:none">A</text>
<path d="M1578.7 1699 Q1578.7 1696 1580.1000000000001 1696 L1595.2 1718.8 L1610.3 1696 Q1611.7 1696 1611.7 1699 V1757.1 Q1611.7 1761.8 1607.0 1761.8 H1583.4 Q1578.7 1761.8 1578.7 1757.1 Z" fill="#c9ab94"/>
<text transform="translate(1596.2 1744.0) scale(0.985 1)" font-size="34.4" text-anchor="middle" font-weight="bold" style="stroke:none">A</text>
<rect x="1920.0" y="1696.1" width="33.0" height="65.6" rx="16.5" fill="#b0bec8"/>
<text transform="translate(1935.9 1744.5) scale(0.925 1)" font-size="34.4" text-anchor="middle" font-weight="bold" style="stroke:none">C</text>
<path d="M557.1500000000001 1801.1000000000001 A14.2 14.2 0 0 0 584.25 1801.1000000000001 A16.5 16.5 0 0 1 587.2 1810.6000000000001 V1852.4 A16.5 16.5 0 0 1 554.2 1852.4 V1810.6000000000001 A16.5 16.5 0 0 1 557.1500000000001 1801.1000000000001 Z" fill="#ebcdd7"/>
<text transform="translate(571.0 1852.5) scale(0.88 1)" font-size="34.4" text-anchor="middle" font-weight="bold" style="stroke:none">G</text>
<path d="M895.6 1806.6 Q895.6 1803.6 897.0 1803.6 L912.1 1826.3999999999999 L927.2 1803.6 Q928.6 1803.6 928.6 1806.6 V1864.6999999999998 Q928.6 1869.3999999999999 923.9 1869.3999999999999 H900.3000000000001 Q895.6 1869.3999999999999 895.6 1864.6999999999998 Z" fill="#c9ab94"/>
<text transform="translate(913.1 1850.9) scale(0.985 1)" font-size="34.4" text-anchor="middle" font-weight="bold" style="stroke:none">A</text>
<path d="M1240.05 1801.1000000000001 A14.2 14.2 0 0 0 1267.1499999999999 1801.1000000000001 A16.5 16.5 0 0 1 1270.1 1810.6000000000001 V1852.4 A16.5 16.5 0 0 1 1237.1 1852.4 V1810.6000000000001 A16.5 16.5 0 0 1 1240.05 1801.1000000000001 Z" fill="#ebcdd7"/>
<text transform="translate(1253.9 1852.5) scale(0.88 1)" font-size="34.4" text-anchor="middle" font-weight="bold" style="stroke:none">G</text>
<rect x="1578.7" y="1803.2" width="33.0" height="65.6" rx="16.5" fill="#b0bec8"/>
<text transform="translate(1594.6 1851.3) scale(0.925 1)" font-size="34.4" text-anchor="middle" font-weight="bold" style="stroke:none">C</text>
<path d="M1936.5 1794.9 L1953.0 1824.3000000000002 V1864.0 Q1953.0 1869.0 1948.0 1869.0 H1925.0 Q1920.0 1869.0 1920.0 1864.0 V1824.3000000000002 Z" fill="#c3dfb9"/>
<text transform="translate(1936.7 1851.0) scale(0.845 1)" font-size="34.4" text-anchor="middle" font-weight="bold" style="stroke:none">T</text>
<path d="M570.7 1909.5 L594.2 1950.2 H547.2 Z" fill="#9e9e9a"/>
<path d="M912.1 1909.5 L935.6 1950.2 H888.6 Z" fill="#9e9e9a"/>
<path d="M1253.6 1909.5 L1277.1 1950.2 H1230.1 Z" fill="#9e9e9a"/>
<path d="M1595.2 1950.2 L1618.7 1909 H1571.7 Z" fill="#9e9e9a"/>
<path d="M1936.5 1950.2 L1960.0 1909 H1913.0 Z" fill="#9e9e9a"/>
<path d="M1835.3 1990 L1848.9 2013.3 H1821.8 Z" fill="#9e9e9a"/>
<text transform="translate(1858.5 2007.2)" font-size="29.3">superior</text>
<path d="M1994.4 2013.3 L2007.9 1990 H1980.9 Z" fill="#9e9e9a"/>
<text transform="translate(2014.5 2007.2)" font-size="29.3">inferior</text>
<rect x="464.4" y="2047.1" width="24.7" height="234.1" fill="#ebcdd7"/>
<rect x="464.4" y="2251.2" width="24.7" height="30.0" fill="#c3dfb9"/>
<text transform="translate(487.4 2289.3) rotate(-90) scale(1 1.03)" font-size="33" text-anchor="end">Wild</text>
<rect x="526.0" y="2047.1" width="24.7" height="234.1" fill="#ebcdd7"/>
<rect x="526.0" y="2240.5" width="24.7" height="40.7" fill="#c3dfb9"/>
<text transform="translate(549.0 2289.3) rotate(-90) scale(1 1.03)" font-size="33" text-anchor="end">Indica</text>
<rect x="587.6" y="2047.1" width="24.7" height="234.1" fill="#ebcdd7"/>
<rect x="587.6" y="2149.5" width="24.7" height="131.7" fill="#c3dfb9"/>
<text transform="translate(610.6 2289.3) rotate(-90) scale(1 1.03)" font-size="33" text-anchor="end">Japonica</text>
<rect x="649.2" y="2047.1" width="24.7" height="234.1" fill="#ebcdd7"/>
<rect x="649.2" y="2243.3" width="24.7" height="37.9" fill="#c3dfb9"/>
<text transform="translate(672.2 2289.3) rotate(-90) scale(1 1.03)" font-size="33" text-anchor="end">Other</text>
<path d="M440.0 2045.6 V2282.8" stroke="#000" stroke-width="3.3" fill="none"/>
<path d="M430.1 2281.2999999999997 H698.1" stroke="#000" stroke-width="3.3" fill="none"/>
<text transform="translate(426.4 2288.8) scale(0.954 1)" font-size="34.6" text-anchor="end">0.00</text>
<path d="M430.1 2222.9 H440.0" stroke="#000" stroke-width="2.9" fill="none"/>
<text transform="translate(426.4 2230.4) scale(0.954 1)" font-size="34.6" text-anchor="end">0.25</text>
<path d="M430.1 2164.4 H440.0" stroke="#000" stroke-width="2.9" fill="none"/>
<text transform="translate(426.4 2171.9) scale(0.954 1)" font-size="34.6" text-anchor="end">0.50</text>
<path d="M430.1 2106.0 H440.0" stroke="#000" stroke-width="2.9" fill="none"/>
<text transform="translate(426.4 2113.5) scale(0.954 1)" font-size="34.6" text-anchor="end">0.75</text>
<path d="M430.1 2047.5 H440.0" stroke="#000" stroke-width="2.9" fill="none"/>
<text transform="translate(426.4 2055.0) scale(0.954 1)" font-size="34.6" text-anchor="end">1.00</text>
<rect x="805.5" y="2047.1" width="24.7" height="234.1" fill="#ebcdd7"/>
<text transform="translate(828.5 2289.3) rotate(-90) scale(1 1.03)" font-size="33" text-anchor="end">Wild</text>
<rect x="867.1" y="2047.1" width="24.7" height="234.1" fill="#ebcdd7"/>
<text transform="translate(890.1 2289.3) rotate(-90) scale(1 1.03)" font-size="33" text-anchor="end">Indica</text>
<rect x="928.7" y="2047.1" width="24.7" height="234.1" fill="#ebcdd7"/>
<text transform="translate(951.7 2289.3) rotate(-90) scale(1 1.03)" font-size="33" text-anchor="end">Japonica</text>
<rect x="990.3" y="2047.1" width="24.7" height="234.1" fill="#ebcdd7"/>
<text transform="translate(1013.3 2289.3) rotate(-90) scale(1 1.03)" font-size="33" text-anchor="end">Other</text>
<path d="M781.1 2045.6 V2282.8" stroke="#000" stroke-width="3.3" fill="none"/>
<path d="M771.2 2281.2999999999997 H1039.2" stroke="#000" stroke-width="3.3" fill="none"/>
<text transform="translate(767.5 2288.8) scale(0.954 1)" font-size="34.6" text-anchor="end">0.00</text>
<path d="M771.2 2222.9 H781.1" stroke="#000" stroke-width="2.9" fill="none"/>
<text transform="translate(767.5 2230.4) scale(0.954 1)" font-size="34.6" text-anchor="end">0.25</text>
<path d="M771.2 2164.4 H781.1" stroke="#000" stroke-width="2.9" fill="none"/>
<text transform="translate(767.5 2171.9) scale(0.954 1)" font-size="34.6" text-anchor="end">0.50</text>
<path d="M771.2 2106.0 H781.1" stroke="#000" stroke-width="2.9" fill="none"/>
<text transform="translate(767.5 2113.5) scale(0.954 1)" font-size="34.6" text-anchor="end">0.75</text>
<path d="M771.2 2047.5 H781.1" stroke="#000" stroke-width="2.9" fill="none"/>
<text transform="translate(767.5 2055.0) scale(0.954 1)" font-size="34.6" text-anchor="end">1.00</text>
<rect x="1147.4" y="2047.1" width="24.7" height="234.1" fill="#c9ab94"/>
<text transform="translate(1170.3 2289.3) rotate(-90) scale(1 1.03)" font-size="33" text-anchor="end">Wild</text>
<rect x="1209.0" y="2047.1" width="24.7" height="234.1" fill="#c9ab94"/>
<rect x="1209.0" y="2276.0" width="24.7" height="5.2" fill="#ebcdd7"/>
<text transform="translate(1231.9 2289.3) rotate(-90) scale(1 1.03)" font-size="33" text-anchor="end">Indica</text>
<rect x="1270.6" y="2047.1" width="24.7" height="234.1" fill="#c9ab94"/>
<text transform="translate(1293.5 2289.3) rotate(-90) scale(1 1.03)" font-size="33" text-anchor="end">Japonica</text>
<rect x="1332.2" y="2047.1" width="24.7" height="234.1" fill="#c9ab94"/>
<text transform="translate(1355.1 2289.3) rotate(-90) scale(1 1.03)" font-size="33" text-anchor="end">Other</text>
<path d="M1122.2 2045.6 V2282.8" stroke="#000" stroke-width="3.3" fill="none"/>
<path d="M1112.3 2281.2999999999997 H1380.3" stroke="#000" stroke-width="3.3" fill="none"/>
<text transform="translate(1108.6 2288.8) scale(0.954 1)" font-size="34.6" text-anchor="end">0.00</text>
<path d="M1112.3 2222.9 H1122.2" stroke="#000" stroke-width="2.9" fill="none"/>
<text transform="translate(1108.6 2230.4) scale(0.954 1)" font-size="34.6" text-anchor="end">0.25</text>
<path d="M1112.3 2164.4 H1122.2" stroke="#000" stroke-width="2.9" fill="none"/>
<text transform="translate(1108.6 2171.9) scale(0.954 1)" font-size="34.6" text-anchor="end">0.50</text>
<path d="M1112.3 2106.0 H1122.2" stroke="#000" stroke-width="2.9" fill="none"/>
<text transform="translate(1108.6 2113.5) scale(0.954 1)" font-size="34.6" text-anchor="end">0.75</text>
<path d="M1112.3 2047.5 H1122.2" stroke="#000" stroke-width="2.9" fill="none"/>
<text transform="translate(1108.6 2055.0) scale(0.954 1)" font-size="34.6" text-anchor="end">1.00</text>
<rect x="1485.5" y="2047.1" width="24.7" height="234.1" fill="#c9ab94"/>
<text transform="translate(1508.4 2289.3) rotate(-90) scale(1 1.03)" font-size="33" text-anchor="end">Wild</text>
<rect x="1547.1" y="2047.1" width="24.7" height="234.1" fill="#c9ab94"/>
<rect x="1547.1" y="2258.3" width="24.7" height="22.9" fill="#b0bec8"/>
<text transform="translate(1570.0 2289.3) rotate(-90) scale(1 1.03)" font-size="33" text-anchor="end">Indica</text>
<rect x="1608.7" y="2047.1" width="24.7" height="234.1" fill="#c9ab94"/>
<rect x="1608.7" y="2189.2" width="24.7" height="92.0" fill="#b0bec8"/>
<text transform="translate(1631.6 2289.3) rotate(-90) scale(1 1.03)" font-size="33" text-anchor="end">Japonica</text>
<rect x="1670.3" y="2047.1" width="24.7" height="234.1" fill="#c9ab94"/>
<rect x="1670.3" y="2227.9" width="24.7" height="53.3" fill="#b0bec8"/>
<text transform="translate(1693.2 2289.3) rotate(-90) scale(1 1.03)" font-size="33" text-anchor="end">Other</text>
<path d="M1463.3 2045.6 V2282.8" stroke="#000" stroke-width="3.3" fill="none"/>
<path d="M1453.4 2281.2999999999997 H1721.4" stroke="#000" stroke-width="3.3" fill="none"/>
<text transform="translate(1449.7 2288.8) scale(0.954 1)" font-size="34.6" text-anchor="end">0.00</text>
<path d="M1453.4 2222.9 H1463.3" stroke="#000" stroke-width="2.9" fill="none"/>
<text transform="translate(1449.7 2230.4) scale(0.954 1)" font-size="34.6" text-anchor="end">0.25</text>
<path d="M1453.4 2164.4 H1463.3" stroke="#000" stroke-width="2.9" fill="none"/>
<text transform="translate(1449.7 2171.9) scale(0.954 1)" font-size="34.6" text-anchor="end">0.50</text>
<path d="M1453.4 2106.0 H1463.3" stroke="#000" stroke-width="2.9" fill="none"/>
<text transform="translate(1449.7 2113.5) scale(0.954 1)" font-size="34.6" text-anchor="end">0.75</text>
<path d="M1453.4 2047.5 H1463.3" stroke="#000" stroke-width="2.9" fill="none"/>
<text transform="translate(1449.7 2055.0) scale(0.954 1)" font-size="34.6" text-anchor="end">1.00</text>
<rect x="1828.8" y="2047.1" width="24.7" height="234.1" fill="#b0bec8"/>
<rect x="1828.8" y="2275.6" width="24.7" height="5.6" fill="#c3dfb9"/>
<text transform="translate(1851.8 2289.3) rotate(-90) scale(1 1.03)" font-size="33" text-anchor="end">Wild</text>
<rect x="1890.4" y="2047.1" width="24.7" height="234.1" fill="#b0bec8"/>
<rect x="1890.4" y="2186.4" width="24.7" height="94.8" fill="#c3dfb9"/>
<text transform="translate(1913.3 2289.3) rotate(-90) scale(1 1.03)" font-size="33" text-anchor="end">Indica</text>
<rect x="1952.0" y="2047.1" width="24.7" height="234.1" fill="#b0bec8"/>
<rect x="1952.0" y="2273.5" width="24.7" height="7.7" fill="#c3dfb9"/>
<text transform="translate(1974.9 2289.3) rotate(-90) scale(1 1.03)" font-size="33" text-anchor="end">Japonica</text>
<rect x="2013.6" y="2047.1" width="24.7" height="234.1" fill="#b0bec8"/>
<rect x="2013.6" y="2270.0" width="24.7" height="11.2" fill="#c3dfb9"/>
<text transform="translate(2036.5 2289.3) rotate(-90) scale(1 1.03)" font-size="33" text-anchor="end">Other</text>
<path d="M1804.4 2045.6 V2282.8" stroke="#000" stroke-width="3.3" fill="none"/>
<path d="M1794.5 2281.2999999999997 H2062.5" stroke="#000" stroke-width="3.3" fill="none"/>
<text transform="translate(1790.8 2288.8) scale(0.954 1)" font-size="34.6" text-anchor="end">0.00</text>
<path d="M1794.5 2222.9 H1804.4" stroke="#000" stroke-width="2.9" fill="none"/>
<text transform="translate(1790.8 2230.4) scale(0.954 1)" font-size="34.6" text-anchor="end">0.25</text>
<path d="M1794.5 2164.4 H1804.4" stroke="#000" stroke-width="2.9" fill="none"/>
<text transform="translate(1790.8 2171.9) scale(0.954 1)" font-size="34.6" text-anchor="end">0.50</text>
<path d="M1794.5 2106.0 H1804.4" stroke="#000" stroke-width="2.9" fill="none"/>
<text transform="translate(1790.8 2113.5) scale(0.954 1)" font-size="34.6" text-anchor="end">0.75</text>
<path d="M1794.5 2047.5 H1804.4" stroke="#000" stroke-width="2.9" fill="none"/>
<text transform="translate(1790.8 2055.0) scale(0.954 1)" font-size="34.6" text-anchor="end">1.00</text>
<rect x="1796.3" y="2441.8" width="24" height="24" fill="#c9ab94"/>
<text transform="translate(1829 2465.9) scale(0.97 1)" font-size="30.2">A</text>
<rect x="1882.3" y="2441.8" width="24" height="24" fill="#c3dfb9"/>
<text transform="translate(1916 2465.9) scale(0.97 1)" font-size="30.2">T</text>
<rect x="1966.3" y="2441.8" width="24" height="24" fill="#b0bec8"/>
<text transform="translate(1997.2 2465.9) scale(0.97 1)" font-size="30.2">C</text>
<rect x="2051" y="2441.8" width="24" height="24" fill="#ebcdd7"/>
<text transform="translate(2081.5 2465.9) scale(0.97 1)" font-size="30.2">G</text>
</svg>
</body></html>
